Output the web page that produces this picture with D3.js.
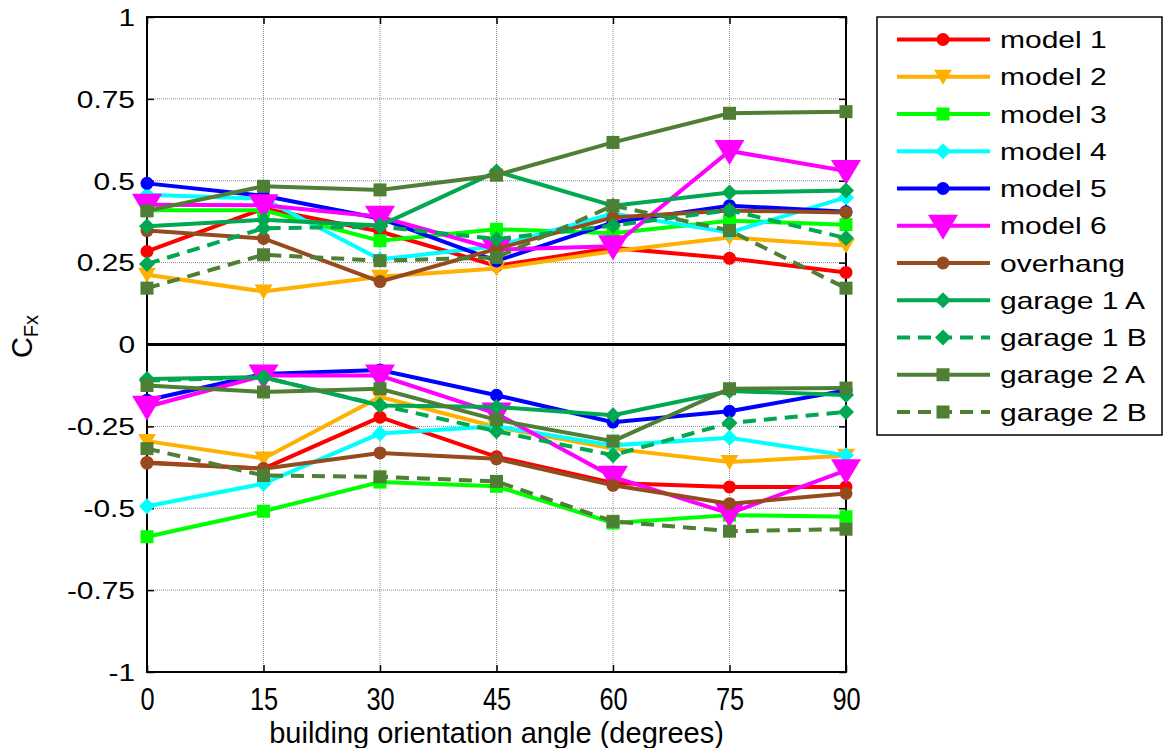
<!DOCTYPE html>
<html>
<head>
<meta charset="utf-8">
<script src="https://cdn.jsdelivr.net/npm/d3@7"></script>
<style>
  body { margin: 0; background: #fff; }
  svg { font-family: "Liberation Sans", Arial, sans-serif; }
</style>
</head>
<body>
<div id="chart"></div>
<script>
///////////////////////////////////////////////////////////////////////////
///////////////////////////////// Data ////////////////////////////////////
///////////////////////////////////////////////////////////////////////////

var angles = [0, 15, 30, 45, 60, 75, 90];
var yTicks = [-1, -0.75, -0.5, -0.25, 0, 0.25, 0.5, 0.75, 1];
var yTickLabels = ["-1", "-0.75", "-0.5", "-0.25", "0", "0.25", "0.5", "0.75", "1"];

var seriesNames = ["model 1", "model 2", "model 3", "model 4", "model 5", "model 6",
                   "overhang", "garage 1 A", "garage 1 B", "garage 2 A", "garage 2 B"];
var seriesColors = ["#FF0000", "#FFB000", "#00FF00", "#00FFFF", "#0000FF", "#FF00FF",
                    "#964B1E", "#00A851", "#00A851", "#4E7F35", "#4E7F35"];
var seriesMarkers = ["circle", "triDown", "square", "diamond", "circle", "bigTriDown",
                     "circle", "diamond", "diamond", "square", "square"];
var seriesDashed = [false, false, false, false, false, false, false, false, true, false, true];

//positive (upper) branch
var posValues = [
  [0.284, 0.415, 0.345, 0.240, 0.295, 0.263, 0.220],  //model 1
  [0.213, 0.162, 0.207, 0.232, 0.285, 0.327, 0.302],  //model 2
  [0.410, 0.410, 0.317, 0.352, 0.340, 0.378, 0.366],  //model 3
  [0.457, 0.445, 0.260, 0.300, 0.400, 0.342, 0.449],  //model 4
  [0.492, 0.454, 0.385, 0.255, 0.373, 0.424, 0.405],  //model 5
  [0.427, 0.425, 0.390, 0.290, 0.300, 0.591, 0.530],  //model 6
  [0.348, 0.324, 0.192, 0.292, 0.388, 0.409, 0.403],  //overhang
  [0.361, 0.381, 0.363, 0.528, 0.424, 0.464, 0.470],  //garage 1 A
  [0.246, 0.355, 0.360, 0.322, 0.363, 0.410, 0.325],  //garage 1 B
  [0.408, 0.483, 0.472, 0.517, 0.617, 0.706, 0.711],  //garage 2 A
  [0.172, 0.274, 0.256, 0.266, 0.424, 0.348, 0.172]   //garage 2 B
];

//negative (lower) branch
var negValues = [
  [-0.360, -0.379, -0.222, -0.343, -0.423, -0.435, -0.435],  //model 1
  [-0.295, -0.348, -0.160, -0.252, -0.318, -0.359, -0.340],  //model 2
  [-0.587, -0.509, -0.420, -0.433, -0.545, -0.521, -0.526],  //model 3
  [-0.494, -0.425, -0.272, -0.250, -0.308, -0.285, -0.338],  //model 4
  [-0.170, -0.090, -0.078, -0.155, -0.237, -0.204, -0.140],  //model 5
  [-0.190, -0.095, -0.095, -0.211, -0.404, -0.516, -0.384],  //model 6
  [-0.362, -0.379, -0.331, -0.349, -0.430, -0.486, -0.455],  //overhang
  [-0.105, -0.100, -0.186, -0.191, -0.216, -0.142, -0.154],  //garage 1 A
  [-0.110, -0.100, -0.185, -0.265, -0.338, -0.240, -0.206],  //garage 1 B
  [-0.125, -0.145, -0.135, -0.230, -0.295, -0.135, -0.133],  //garage 2 A
  [-0.318, -0.400, -0.404, -0.418, -0.540, -0.570, -0.564]   //garage 2 B
];

///////////////////////////////////////////////////////////////////////////
//////////////////// Set up and initiate svg containers ///////////////////
///////////////////////////////////////////////////////////////////////////

var totalWidth = 1165, totalHeight = 748;
var margin = { top: 17, right: 319, bottom: 76, left: 147 };
var width = totalWidth - margin.left - margin.right;
var height = totalHeight - margin.top - margin.bottom;

var svgRoot = d3.select("#chart").append("svg")
  .attr("width", totalWidth)
  .attr("height", totalHeight);

var svg = svgRoot.append("g")
  .attr("transform", "translate(" + margin.left + "," + margin.top + ")");

var x = d3.scaleLinear().domain([0, 90]).range([0, width]);
var y = d3.scaleLinear().domain([-1, 1]).range([height, 0]);

///////////////////////////////////////////////////////////////////////////
///////////////////////////////// Grid ////////////////////////////////////
///////////////////////////////////////////////////////////////////////////

svg.append("g").selectAll("line.vgrid")
  .data(angles).enter().append("line")
  .attr("x1", function(d) { return x(d); }).attr("x2", function(d) { return x(d); })
  .attr("y1", 0).attr("y2", height)
  .style("stroke", "#8c8c8c").style("stroke-width", 1)
  .style("stroke-dasharray", "1,1");

svg.append("g").selectAll("line.hgrid")
  .data(yTicks).enter().append("line")
  .attr("x1", 0).attr("x2", width)
  .attr("y1", function(d) { return y(d); }).attr("y2", function(d) { return y(d); })
  .style("stroke", "#8c8c8c").style("stroke-width", 1)
  .style("stroke-dasharray", "1,1");

//zero line
svg.append("line")
  .attr("x1", 0).attr("x2", width)
  .attr("y1", y(0)).attr("y2", y(0))
  .style("stroke", "#000").style("stroke-width", 3);

///////////////////////////////////////////////////////////////////////////
///////////////////////////////// Axes ////////////////////////////////////
///////////////////////////////////////////////////////////////////////////

var yAxis = svg.append("g")
  .call(d3.axisLeft(y).tickValues(yTicks)
    .tickFormat(function(d, i) { return yTickLabels[i]; })
    .tickSizeInner(-7).tickSizeOuter(0).tickPadding(12));
yAxis.select(".domain").remove();
yAxis.selectAll("line").style("stroke", "#000").style("stroke-width", 1.5);
yAxis.selectAll("text")
  .attr("x", 0).attr("dy", "0.36em")
  .attr("transform", "translate(-12,0) scale(1.3,1)")
  .style("font-size", "23px").style("fill", "#000");

var yAxisRight = svg.append("g")
  .attr("transform", "translate(" + width + ",0)")
  .call(d3.axisRight(y).tickValues(yTicks).tickFormat("")
    .tickSizeInner(-7).tickSizeOuter(0));
yAxisRight.select(".domain").remove();
yAxisRight.selectAll("line").style("stroke", "#000").style("stroke-width", 1.5);

var xAxis = svg.append("g")
  .attr("transform", "translate(0," + height + ")")
  .call(d3.axisBottom(x).tickValues(angles)
    .tickSizeInner(-7).tickSizeOuter(0));
xAxis.select(".domain").remove();
xAxis.selectAll("line").style("stroke", "#000").style("stroke-width", 1.5);
xAxis.selectAll(".tick text")
  .attr("x", 0).attr("y", 0).attr("dy", 0)
  .attr("transform", "translate(0,38) scale(0.82,1)")
  .style("font-size", "31px").style("fill", "#000");

var xAxisTop = svg.append("g")
  .call(d3.axisTop(x).tickValues(angles).tickFormat("")
    .tickSizeInner(-7).tickSizeOuter(0));
xAxisTop.select(".domain").remove();
xAxisTop.selectAll("line").style("stroke", "#000").style("stroke-width", 1.5);

//box
svg.append("rect")
  .attr("x", 0).attr("y", 0).attr("width", width).attr("height", height)
  .style("fill", "none").style("stroke", "#000").style("stroke-width", 2);

//axis titles
svg.append("text")
  .attr("transform", "translate(" + (width / 2) + "," + (height + 71) + ")")
  .attr("text-anchor", "middle")
  .style("font-size", "29px")
  .text("building orientation angle (degrees)");

var yTitle = svg.append("text")
  .attr("transform", "translate(" + (-115) + "," + (height / 2 - 8) + ") rotate(-90)")
  .attr("text-anchor", "middle")
  .style("font-size", "29px");
yTitle.append("tspan").text("C");
yTitle.append("tspan").attr("dy", "0.3em").style("font-size", "20px").text("Fx");

///////////////////////////////////////////////////////////////////////////
//////////////////////////////// Markers //////////////////////////////////
///////////////////////////////////////////////////////////////////////////

function drawMarker(sel, type, color) {
  if (type === "circle") {
    sel.append("circle").attr("r", 6.5).style("fill", color);
  } else if (type === "square") {
    sel.append("rect").attr("x", -6.5).attr("y", -6.5).attr("width", 13).attr("height", 13)
      .style("fill", color);
  } else if (type === "diamond") {
    sel.append("path").attr("d", "M0,-8L8,0L0,8L-8,0Z").style("fill", color);
  } else if (type === "triDown") {
    sel.append("path").attr("d", "M-9,-7L9,-7L0,8Z").style("fill", color);
  } else if (type === "bigTriDown") {
    sel.append("path").attr("d", "M-15,-11L15,-11L0,14Z").style("fill", color);
  }
}

///////////////////////////////////////////////////////////////////////////
///////////////////////////////// Lines ///////////////////////////////////
///////////////////////////////////////////////////////////////////////////

var line = d3.line()
  .x(function(d, i) { return x(angles[i]); })
  .y(function(d) { return y(d); });

seriesNames.forEach(function(name, s) {
  var color = seriesColors[s];
  [posValues[s], negValues[s]].forEach(function(vals) {
    var g = svg.append("g").attr("class", "series");
    g.append("path")
      .datum(vals)
      .attr("d", line)
      .style("fill", "none")
      .style("stroke", color)
      .style("stroke-width", 4)
      .style("stroke-dasharray", seriesDashed[s] ? "13,8" : null);
    g.selectAll(".marker")
      .data(vals).enter().append("g")
      .attr("class", "marker")
      .attr("transform", function(d, i) { return "translate(" + x(angles[i]) + "," + y(d) + ")"; })
      .each(function() { drawMarker(d3.select(this), seriesMarkers[s], color); });
  });
});

///////////////////////////////////////////////////////////////////////////
///////////////////////////////// Legend //////////////////////////////////
///////////////////////////////////////////////////////////////////////////

var legend = svgRoot.append("g").attr("transform", "translate(877,17)");
legend.append("rect")
  .attr("x", 0).attr("y", 0).attr("width", 285).attr("height", 418)
  .style("fill", "#fff").style("stroke", "#000").style("stroke-width", 1.5);

var rowY = d3.scaleLinear().domain([0, seriesNames.length - 1]).range([22.5, 395]);

seriesNames.forEach(function(name, s) {
  var row = legend.append("g").attr("transform", "translate(0," + rowY(s) + ")");
  row.append("line")
    .attr("x1", 20).attr("x2", 113).attr("y1", 0).attr("y2", 0)
    .style("stroke", seriesColors[s]).style("stroke-width", 4)
    .style("stroke-dasharray", seriesDashed[s] ? "13,8" : null);
  var m = row.append("g").attr("transform", "translate(66,0)");
  drawMarker(m, seriesMarkers[s], seriesColors[s]);
  row.append("text")
    .attr("transform", "translate(123,0) scale(1.25,1)")
    .attr("dy", "0.36em")
    .style("font-size", "24px")
    .text(name);
});
</script>
</body>
</html>
